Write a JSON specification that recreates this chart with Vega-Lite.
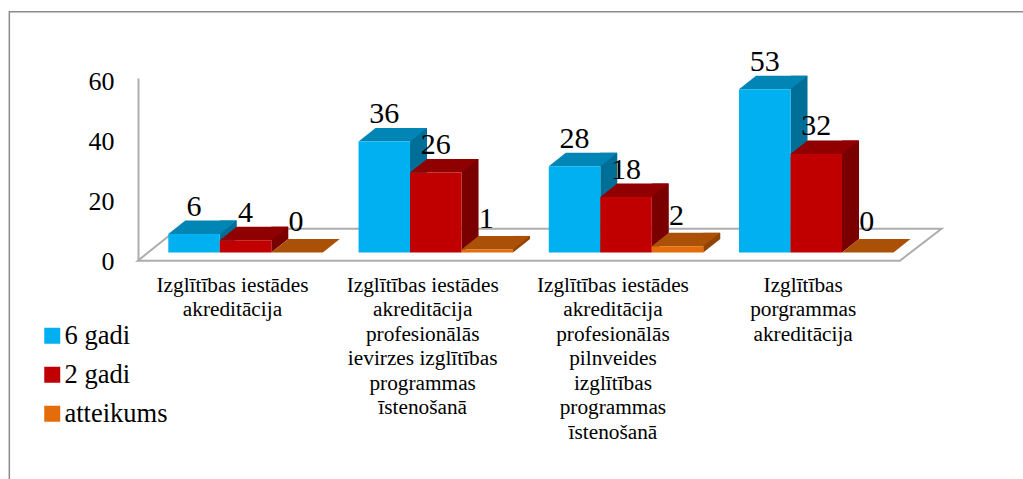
{
"$schema":"https://vega.github.io/schema/vega-lite/v6.json",
"width":1014,"height":467,
"autosize":"none",
"padding":{"left":9,"top":12,"right":0,"bottom":0},
"background":"white",
"view":{"stroke":null},
"config":{"font":"Liberation Serif"},
"data":{"values":[
{"cat":"Izglītības iestādes\nakreditācija","series":"6 gadi","value":6},
{"cat":"Izglītības iestādes\nakreditācija","series":"2 gadi","value":4},
{"cat":"Izglītības iestādes\nakreditācija","series":"atteikums","value":0},
{"cat":"Izglītības iestādes\nakreditācija\nprofesionālās\nievirzes izglītības\nprogrammas\nīstenošanā","series":"6 gadi","value":36},
{"cat":"Izglītības iestādes\nakreditācija\nprofesionālās\nievirzes izglītības\nprogrammas\nīstenošanā","series":"2 gadi","value":26},
{"cat":"Izglītības iestādes\nakreditācija\nprofesionālās\nievirzes izglītības\nprogrammas\nīstenošanā","series":"atteikums","value":1},
{"cat":"Izglītības iestādes\nakreditācija\nprofesionālās\npilnveides\nizglītības\nprogrammas\nīstenošanā","series":"6 gadi","value":28},
{"cat":"Izglītības iestādes\nakreditācija\nprofesionālās\npilnveides\nizglītības\nprogrammas\nīstenošanā","series":"2 gadi","value":18},
{"cat":"Izglītības iestādes\nakreditācija\nprofesionālās\npilnveides\nizglītības\nprogrammas\nīstenošanā","series":"atteikums","value":2},
{"cat":"Izglītības\nporgrammas\nakreditācija","series":"6 gadi","value":53},
{"cat":"Izglītības\nporgrammas\nakreditācija","series":"2 gadi","value":32},
{"cat":"Izglītības\nporgrammas\nakreditācija","series":"atteikums","value":0}
]},
"encoding":{
  "x":{"field":"cat","type":"nominal","sort":null,"title":null,
   "scale":{"range":[159.3,884.3],"paddingInner":0.189,"paddingOuter":0},
   "axis":{"orient":"bottom","offset":-205,"domain":false,"ticks":false,"labelAngle":0,"labelPadding":0,"labelFontSize":21.3,"labelFont":"Liberation Serif","labelColor":"#000","labelOffset":-13,"labelLineHeight":24.5,"labelLimit":0,"labelBaseline":"top","labelExpr":"split(datum.label,'\\n')"}}
},
"resolve":{"scale":{"y":"independent","color":"independent","xOffset":"independent"},"axis":{"y":"independent"}},
"layer":[
{"mark":{"type":"point","shape":"M-2.152 .164L13.088 .164L13.922 -.476L-1.352 -.476Z","filled":false,"stroke":"#ADADAD","strokeWidth":2,"opacity":1,"size":10000},
 "transform":[{"filter":"datum.series=='6 gadi' && datum.value==6"}],
 "encoding":{
  "y":{"datum":0,"scale":{"domain":[0,60],"range":[240.5,55.7]},"axis":null}}},
{"mark":{"type":"point","shape":"M16.7 -4.816L-4.722 -4.816L-4.722 4.7","filled":false,"stroke":"#8C8C8C","strokeWidth":1.5,"opacity":1,"size":10000},
 "transform":[{"filter":"datum.series=='6 gadi' && datum.value==6"}],
 "encoding":{
  "y":{"datum":0,"scale":{"domain":[0,60],"range":[240.5,55.7]},"axis":null}}},
{"mark":{"type":"rule","opacity":0},
 "encoding":{"y":{"field":"value","type":"quantitative","title":null,
   "scale":{"domain":[0,61],"range":[249,66],"nice":false},
   "axis":{"orient":"left","offset":-129,"values":[0,20,40,60],"grid":false,"ticks":false,"domainColor":"#ADADAD","domainWidth":2,"labelPadding":24,"labelFontSize":26,"labelFont":"Liberation Serif","labelColor":"#000"}}}},
{"mark":{"type":"rule","strokeWidth":17,"strokeCap":"butt","yOffset":-13.5,"y2Offset":-13.5},
 "transform":[{"filter":"datum.value>0"}],
 "encoding":{
  "xOffset":{"field":"series","type":"nominal","scale":{"type":"band","domain":["6 gadi","2 gadi","atteikums"],"range":[34.25,188.75],"paddingInner":0,"paddingOuter":0}},
  "y":{"field":"value","type":"quantitative","stack":null,"scale":{"domain":[0,60],"range":[240.5,55.7]},"axis":null},
  "y2":{"datum":0},
  "color":{"field":"series","type":"nominal","sort":null,"legend":null,"scale":{"domain":["6 gadi","2 gadi","atteikums"],"range":["#006F98","#7A0000","#8F4305"]}}}},
{"mark":{"type":"point","shape":"M.515 -.27L.855 -.27L.515 0Z","filled":true,"opacity":1,"size":10000,"strokeWidth":0},
 "transform":[{"filter":"datum.value>0"}],
 "encoding":{
  "xOffset":{"field":"series","type":"nominal","scale":{"type":"band","domain":["6 gadi","2 gadi","atteikums"],"range":[0,154.5],"paddingInner":0,"paddingOuter":0}},
  "y":{"datum":0,"scale":{"domain":[0,60],"range":[240.5,55.7]},"axis":null},
  "color":{"field":"series","type":"nominal","sort":null,"legend":null,"scale":{"domain":["6 gadi","2 gadi","atteikums"],"range":["#006F98","#7A0000","#8F4305"]}}}},
{"mark":{"type":"point","shape":"M-.515 0L-.175 -.27L.855 -.27L.515 0Z","filled":true,"opacity":1,"size":10000,"strokeWidth":0},
 "encoding":{
  "xOffset":{"field":"series","type":"nominal","scale":{"type":"band","domain":["6 gadi","2 gadi","atteikums"],"range":[0,154.5],"paddingInner":0,"paddingOuter":0}},
  "y":{"field":"value","type":"quantitative","scale":{"domain":[0,60],"range":[240.5,55.7]},"axis":null},
  "color":{"field":"series","type":"nominal","sort":null,"legend":null,"scale":{"domain":["6 gadi","2 gadi","atteikums"],"range":["#0085B5","#900000","#AB5107"]}}}},
{"mark":{"type":"bar"},
 "encoding":{
  "xOffset":{"field":"series","type":"nominal","scale":{"type":"band","domain":["6 gadi","2 gadi","atteikums"],"range":[0,154.5],"paddingInner":0,"paddingOuter":0}},
  "y":{"field":"value","type":"quantitative","stack":null,"scale":{"domain":[0,60],"range":[240.5,55.7]},"axis":null},
  "y2":{"datum":0},
  "color":{"field":"series","type":"nominal","sort":null,"title":null,
   "scale":{"domain":["6 gadi","2 gadi","atteikums"],"range":["#00B0F0","#C00000","#E46C0A"]},
   "legend":{"orient":"none","legendX":30,"legendY":310.5,"title":null,"symbolType":"square","symbolSize":256,"symbolStrokeWidth":0,"symbolOpacity":1,"labelFontSize":26.5,"labelFont":"Liberation Serif","labelColor":"#000","labelOffset":-1,"rowPadding":12,"labelLimit":0}}}},
{"mark":{"type":"text","font":"Liberation Serif","fontSize":30,"color":"#000","baseline":"middle","yOffset":-27.5},
 "transform":[{"filter":"datum.series!='atteikums'"}],
 "encoding":{
  "xOffset":{"field":"series","type":"nominal","scale":{"type":"band","domain":["6 gadi","2 gadi","atteikums"],"range":[0,154.5],"paddingInner":0,"paddingOuter":0}},
  "y":{"field":"value","type":"quantitative","scale":{"domain":[0,60],"range":[240.5,55.7]},"axis":null},
  "text":{"field":"value","type":"quantitative"}}},
{"mark":{"type":"text","font":"Liberation Serif","fontSize":30,"color":"#000","baseline":"middle","yOffset":-30.5},
 "transform":[{"filter":"datum.series=='atteikums'"}],
 "encoding":{
  "xOffset":{"field":"series","type":"nominal","scale":{"type":"band","domain":["6 gadi","2 gadi","atteikums"],"range":[-1,153.5],"paddingInner":0,"paddingOuter":0}},
  "y":{"field":"value","type":"quantitative","scale":{"domain":[0,60],"range":[240.5,55.7]},"axis":null},
  "text":{"field":"value","type":"quantitative"}}}
]
}
